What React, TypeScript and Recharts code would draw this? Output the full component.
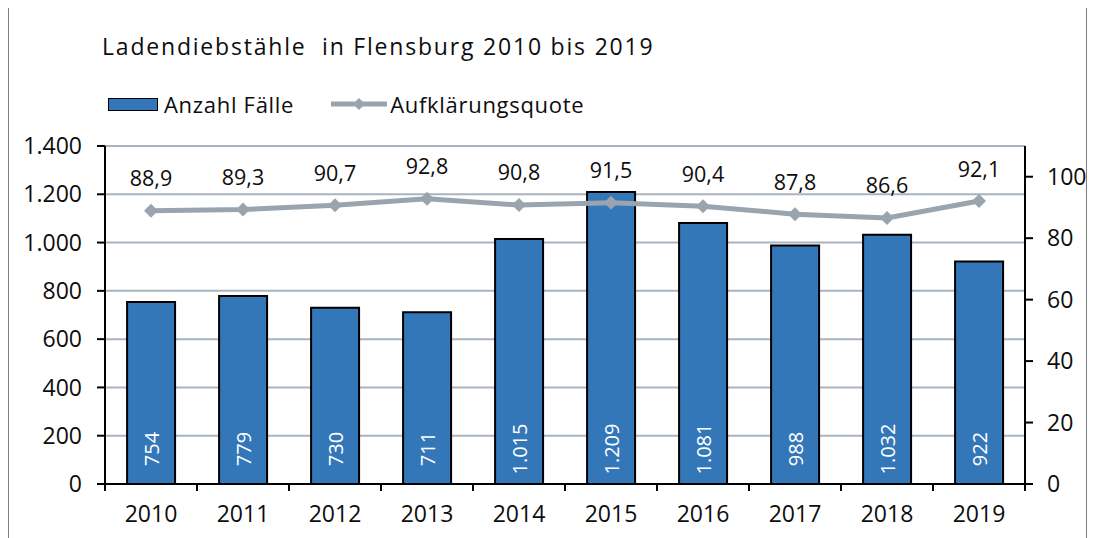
import React from 'react';
import { ComposedChart, Bar, Line, XAxis, YAxis, CartesianGrid, LabelList } from 'recharts';

const years = ['2010', '2011', '2012', '2013', '2014', '2015', '2016', '2017', '2018', '2019'];
const cases = [754, 779, 730, 711, 1015, 1209, 1081, 988, 1032, 922];
const quote = [88.9, 89.3, 90.7, 92.8, 90.8, 91.5, 90.4, 87.8, 86.6, 92.1];
const leftTicks = [0, 200, 400, 600, 800, 1000, 1200, 1400];
const rightTicks = [0, 20, 40, 60, 80, 100];
const title = 'Ladendiebstähle\u00a0 in Flensburg 2010 bis 2019';
const seriesNames = ['Anzahl Fälle', 'Aufklärungsquote'];

const data = years.map((y, i) => ({ year: y, cases: cases[i], quote: quote[i] }));

const FONT = '"Open Sans", Lato, sans-serif';
const BLUE = '#3377B9';
const GRAY = '#99A4AE';
const GRID = '#A9B4BF';
const TXT = '#0d0d0d';

const fmtThousands = (v: number) => String(v).replace(/\B(?=(\d{3})+(?!\d))/g, '.');
const fmtDec = (v: number) => v.toFixed(1).replace('.', ',');

const Diamond = (props: any) => {
  const { cx, cy } = props;
  if (cx == null || cy == null) return null;
  const r = 7;
  return <path d={`M${cx},${cy - r} L${cx + r},${cy} L${cx},${cy + r} L${cx - r},${cy} Z`} fill={GRAY} />;
};

const XTick = (props: any) => {
  const { x, y, payload, index, visibleTicksCount } = props;
  const off = payload && payload.offset ? payload.offset : 46;
  const last = index === (visibleTicksCount ?? years.length) - 1;
  return (
    <g>
      <line x1={x - off} y1={y} x2={x - off} y2={y + 7} stroke="#000" strokeWidth={2} />
      {last && <line x1={x + off} y1={y} x2={x + off} y2={y + 7} stroke="#000" strokeWidth={2} />}
      <text x={x} y={y + 29} textAnchor="middle" dominantBaseline="central" fill={TXT} fontSize={23} fontFamily={FONT}>
        {payload.value}
      </text>
    </g>
  );
};

const BarLabel = (props: any) => {
  const { x, y, width, height, value } = props;
  const cx = x + width / 2;
  const cy = y + height - 35;
  return (
    <text transform={`translate(${cx},${cy}) rotate(-90)`} textAnchor="middle" dominantBaseline="central" fill="#fff" fontSize={20} fontFamily={FONT}>
      {fmtThousands(value)}
    </text>
  );
};

const LineLabel = (props: any) => {
  const { x, y, value } = props;
  return (
    <text x={x} y={y - 33} textAnchor="middle" dominantBaseline="central" fill={TXT} fontSize={21.5} fontFamily={FONT}>
      {fmtDec(value)}
    </text>
  );
};

export default function App() {
  return (
    <div style={{ position: 'relative', width: 1077, height: 540, border: '1px solid #7f7f7f', marginTop: -2, background: '#fff', fontFamily: FONT }}>
      <div style={{ position: 'absolute', left: 93, top: 23, fontSize: 23, letterSpacing: 1.8, color: TXT, whiteSpace: 'pre' }}>{title}</div>
      <div style={{ position: 'absolute', left: 99, top: 82, display: 'flex', alignItems: 'center', fontSize: 22, letterSpacing: 0.7, color: TXT }}>
        <span style={{ display: 'inline-block', width: 48, height: 11, background: BLUE, border: '1.5px solid #000', marginRight: 6 }} />
        <span>{seriesNames[0]}</span>
        <svg width={56} height={16} style={{ marginLeft: 37, marginRight: 3 }}>
          <line x1={0} y1={8} x2={56} y2={8} stroke={GRAY} strokeWidth={5} />
          <path d="M28,2 L34,8 L28,14 L22,8 Z" fill={GRAY} />
        </svg>
        <span>{seriesNames[1]}</span>
      </div>
      <ComposedChart
        width={1077}
        height={540}
        data={data}
        margin={{ top: 139, right: 0, left: 0, bottom: 9 }}
        barCategoryGap="24%"
      >
        <CartesianGrid yAxisId="left" vertical={false} stroke={GRID} strokeWidth={2} />
        <XAxis
          dataKey="year"
          xAxisId="x"
          axisLine={{ stroke: '#000', strokeWidth: 2 }}
          tickLine={false}
          tickSize={0}
          tickMargin={0}
          height={54}
          tick={<XTick />}
          interval={0}
        />
        <YAxis
          yAxisId="left"
          domain={[0, 1400]}
          ticks={leftTicks}
          width={96}
          axisLine={{ stroke: '#000', strokeWidth: 2 }}
          tickLine={{ stroke: '#000', strokeWidth: 2 }}
          tickSize={8}
          tickMargin={15}
          tickFormatter={fmtThousands}
          tick={{ fill: TXT, fontSize: 23, fontFamily: FONT }}
          interval={0}
        />
        <YAxis
          yAxisId="right"
          orientation="right"
          domain={[0, 110]}
          ticks={rightTicks}
          width={61}
          axisLine={{ stroke: '#000', strokeWidth: 2 }}
          tickLine={{ stroke: '#000', strokeWidth: 2 }}
          tickSize={8}
          tickMargin={14}
          tick={{ fill: TXT, fontSize: 23, fontFamily: FONT, textAnchor: 'start' }}
          interval={0}
        />
        <Bar xAxisId="x" yAxisId="left" dataKey="cases" fill={BLUE} stroke="#000" strokeWidth={2} isAnimationActive={false}>
          <LabelList dataKey="cases" content={<BarLabel />} />
        </Bar>
        <Line
          xAxisId="x"
          yAxisId="right"
          dataKey="quote"
          stroke={GRAY}
          strokeWidth={5}
          dot={<Diamond />}
          activeDot={false}
          isAnimationActive={false}
        >
          <LabelList dataKey="quote" content={<LineLabel />} />
        </Line>
      </ComposedChart>
    </div>
  );
}
